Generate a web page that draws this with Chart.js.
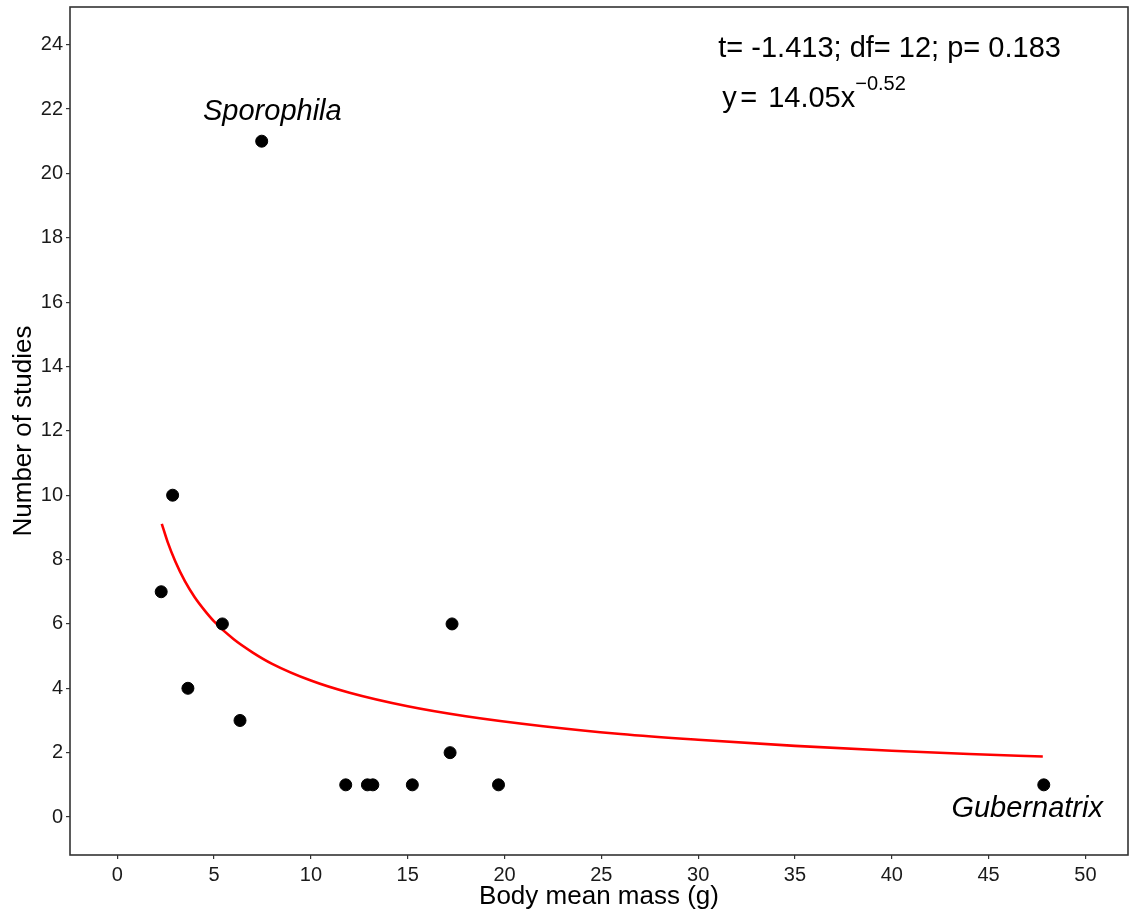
<!DOCTYPE html>
<html>
<head>
<meta charset="utf-8">
<script src="https://cdn.jsdelivr.net/npm/chart.js@4/dist/chart.umd.min.js"></script>
<style>
html,body{margin:0;padding:0;background:#fff;}
canvas{display:block;}
</style>
</head>
<body>
<canvas id="c" width="1129" height="912"></canvas>
<script>
// ---- data ----
const massX   = [2.27, 2.86, 3.65, 5.43, 6.34, 7.46, 11.8, 12.92, 13.2, 15.24, 17.19, 17.29, 19.69, 47.85];
const studiesY = [7, 10, 4, 6, 3, 21, 1, 1, 1, 1, 2, 6, 1, 1];
// fitted power curve y = 14.05 x^-0.52
const curveX = [2.3, 2.6, 3, 3.5, 4, 4.5, 5, 6, 7, 8, 10, 12, 15, 18, 22, 26, 30, 35, 40, 44, 47.8];
const curveY = [9.11, 8.55, 7.94, 7.32, 6.83, 6.43, 6.08, 5.53, 5.11, 4.76, 4.24, 3.86, 3.44, 3.13, 2.82, 2.58, 2.40, 2.21, 2.06, 1.96, 1.88];
const xTicks = [0, 5, 10, 15, 20, 25, 30, 35, 40, 45, 50];
const yTicks = [0, 2, 4, 6, 8, 10, 12, 14, 16, 18, 20, 22, 24];
const xLabel = 'Body mean mass (g)';
const yLabel = 'Number of studies';
const statText = 't= -1.413; df= 12; p= 0.183';
const genusTop = 'Sporophila';
const genusBottom = 'Gubernatrix';

const FONT = '"Liberation Sans", Arial, sans-serif';

const points = massX.map((x, i) => ({x: x, y: studiesY[i]}));
const curve = curveX.map((x, i) => ({x: x, y: curveY[i]}));

const framePlugin = {
  id: 'frame',
  afterDraw(chart) {
    const {ctx, chartArea: a} = chart;
    ctx.save();
    ctx.strokeStyle = '#333333';
    ctx.lineWidth = 1.6;
    ctx.strokeRect(a.left, a.top, a.right - a.left, a.bottom - a.top);
    ctx.restore();
  }
};

const textPlugin = {
  id: 'texts',
  afterDatasetsDraw(chart) {
    const {ctx} = chart;
    const xs = chart.scales.x, ys = chart.scales.y;
    const px = v => xs.getPixelForValue(v), py = v => ys.getPixelForValue(v);
    ctx.save();
    ctx.fillStyle = '#000';
    ctx.textBaseline = 'alphabetic';
    ctx.textAlign = 'left';
    ctx.font = '29px ' + FONT;
    ctx.fillText(statText, px(31.04), py(23.62));
    // equation
    const ex = px(31.24), ey = py(22.07);
    ctx.fillText('y', ex, ey);
    ctx.fillText('=', ex + 18, ey);
    ctx.fillText('14.05x', ex + 46, ey);
    const w = ctx.measureText('14.05x').width;
    ctx.font = '20px ' + FONT;
    ctx.fillText('\u22120.52', ex + 46 + w, ey - 17);
    // genus labels
    ctx.font = 'italic 29px ' + FONT;
    ctx.fillText(genusTop, px(4.43), py(21.67));
    ctx.fillText(genusBottom, px(43.08), py(0.0));
    ctx.restore();
  }
};

new Chart(document.getElementById('c'), {
  data: {
    datasets: [
      {
        type: 'scatter',
        data: points,
        backgroundColor: '#000',
        borderColor: '#000',
        pointRadius: 6,
        pointHoverRadius: 6,
        order: 0
      },
      {
        type: 'line',
        data: curve,
        borderColor: '#ff0000',
        borderWidth: 2.6,
        pointRadius: 0,
        fill: false,
        cubicInterpolationMode: 'monotone',
        order: 1
      }
    ]
  },
  options: {
    responsive: false,
    animation: false,
    events: [],
    layout: {autoPadding: false, padding: {top: 7, right: 1, left: 0, bottom: 0}},
    plugins: {legend: {display: false}, tooltip: {enabled: false}},
    scales: {
      x: {
        type: 'linear',
        min: -2.44,
        max: 52.2,
        afterBuildTicks(s) { s.ticks = xTicks.map(v => ({value: v})); },
        afterFit(s) { s.height = 57; s.paddingLeft = 0; s.paddingRight = 0; },
        border: {display: false},
        grid: {drawOnChartArea: false, drawTicks: true, tickLength: 4, tickColor: '#333333', lineWidth: 1.2},
        ticks: {color: '#1a1a1a', font: {family: FONT, size: 20}, padding: 4, maxRotation: 0},
        title: {display: true, text: xLabel, color: '#000', font: {family: FONT, size: 26}, padding: {top: 0, bottom: 0}}
      },
      y: {
        type: 'linear',
        min: -1.18,
        max: 25.17,
        afterBuildTicks(s) { s.ticks = yTicks.map(v => ({value: v})); },
        afterFit(s) { s.width = 70; s.paddingTop = 0; s.paddingBottom = 0; },
        border: {display: false},
        grid: {drawOnChartArea: false, drawTicks: true, tickLength: 4, tickColor: '#333333', lineWidth: 1.2},
        ticks: {color: '#1a1a1a', font: {family: FONT, size: 20}, padding: 3},
        title: {display: true, text: yLabel, color: '#000', font: {family: FONT, size: 26}, padding: {top: 8, bottom: 0}}
      }
    }
  },
  plugins: [framePlugin, textPlugin]
});
</script>
</body>
</html>
